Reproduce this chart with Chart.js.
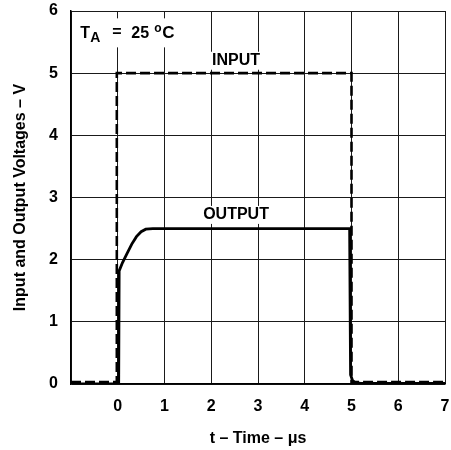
<!DOCTYPE html>
<html>
<head>
<meta charset="utf-8">
<script src="https://cdn.jsdelivr.net/npm/chart.js@4.4.1/dist/chart.umd.min.js"></script>
<style>
  html, body { margin: 0; padding: 0; background: #fff; }
  #wrap { width: 451px; height: 450px; }
</style>
</head>
<body>
<div id="wrap"><canvas id="c" width="451" height="450"></canvas></div>
<script>
// ---- Data ----
const inputTime   = [-1, -0.02, -0.02, 5.0, 5.0, 7];
const inputVolts  = [0.03, 0.03, 5.0, 5.0, 0.03, 0.03];

const outputTime  = [-1, 0.02, 0.03, 0.1, 0.2, 0.3, 0.4, 0.5, 0.6, 0.75, 4.96, 4.98, 5.02, 5.08, 5.2, 7];
const outputVolts = [0, 0, 1.82, 1.95, 2.1, 2.25, 2.37, 2.45, 2.49, 2.5, 2.5, 0.15, 0.06, 0.02, 0.01, 0.01];

const xTicks = [-1, 0, 1, 2, 3, 4, 5, 6, 7];
const yTicks = [0, 1, 2, 3, 4, 5, 6];

const labels = [
  { text: 'INPUT',  x: 2.53, y: 5.2 },
  { text: 'OUTPUT', x: 2.53, y: 2.72 }
];
const tempLabel = { x: -0.8, y: 5.56 };

function pts(xs, ys) { return xs.map((x, i) => ({ x: x, y: ys[i] })); }

const FONT = "'Liberation Sans', Arial, Helvetica, sans-serif";

const annotPlugin = {
  id: 'annot',
  afterDatasetsDraw(chart) {
    const ctx = chart.ctx;
    const xs = chart.scales.x, ys = chart.scales.y;
    ctx.save();
    ctx.textBaseline = 'middle';
    ctx.textAlign = 'center';
    ctx.font = 'bold 16px ' + FONT;
    labels.forEach(l => {
      const px = xs.getPixelForValue(l.x), py = ys.getPixelForValue(l.y);
      const w = ctx.measureText(l.text).width;
      ctx.fillStyle = '#fff';
      ctx.fillRect(px - w / 2 - 3, py - 9, w + 6, 18);
      ctx.fillStyle = '#000';
      ctx.fillText(l.text, px, py);
    });
    // T_A = 25°C label (baseline anchored)
    const px = xs.getPixelForValue(tempLabel.x), py = ys.getPixelForValue(tempLabel.y);
    ctx.textAlign = 'left';
    ctx.textBaseline = 'alphabetic';
    ctx.fillStyle = '#fff';
    ctx.fillRect(px - 6, py - 20, 104, 29);
    ctx.fillStyle = '#000';
    ctx.font = 'bold 16px ' + FONT;
    ctx.fillText('T', px, py);
    ctx.font = 'bold 14px ' + FONT;
    ctx.fillText('A', px + 10, py + 4);
    ctx.font = 'bold 16px ' + FONT;
    ctx.fillText('=', px + 32, py - 1);
    ctx.fillText('25', px + 51, py);
    ctx.font = 'bold 12px ' + FONT;
    ctx.fillText('o', px + 74, py - 6);
    ctx.font = 'bold 17px ' + FONT;
    ctx.fillText('C', px + 82, py);
    ctx.restore();
  }
};

new Chart(document.getElementById('c'), {
  type: 'scatter',
  data: {
    datasets: [
      {
        label: 'Output',
        data: pts(outputTime, outputVolts),
        showLine: true,
        borderColor: '#000',
        borderWidth: 2.8,
        pointRadius: 0,
        tension: 0,
        fill: false
      },
      {
        label: 'Input',
        data: pts(inputTime, inputVolts),
        showLine: true,
        borderColor: '#000',
        borderWidth: 2.6,
        borderDash: [10, 4],
        pointRadius: 0,
        tension: 0,
        fill: false
      }
    ]
  },
  options: {
    responsive: false,
    animation: false,
    layout: { padding: { top: 11, right: 6, left: 0, bottom: 0 } },
    plugins: { legend: { display: false }, tooltip: { enabled: false } },
    scales: {
      x: {
        type: 'linear',
        min: -1, max: 7,
        afterBuildTicks(s) { s.ticks = xTicks.map(v => ({ value: v })); },
        afterFit(s) { s.height = 66; s.paddingLeft = 0; s.paddingRight = 0; },
        ticks: {
          color: '#000',
          font: { family: FONT, size: 16, weight: 'bold' },
          padding: 13,
          callback: v => (v === -1 ? '' : String(v))
        },
        grid: { color: '#1a1a1a', lineWidth: 1, drawTicks: false },
        border: { color: '#000', width: 1.5 },
        title: {
          display: true,
          text: 't – Time – μs',
          color: '#000',
          font: { family: FONT, size: 16, weight: 'bold' },
          padding: { top: 0, bottom: 2 }
        }
      },
      y: {
        type: 'linear',
        min: 0, max: 6,
        afterBuildTicks(s) { s.ticks = yTicks.map(v => ({ value: v })); },
        afterFit(s) { s.width = 71; s.paddingTop = 0; s.paddingBottom = 0; },
        ticks: {
          color: '#000',
          font: { family: FONT, size: 16, weight: 'bold' },
          padding: 13
        },
        grid: { color: '#1a1a1a', lineWidth: 1, drawTicks: false },
        border: { color: '#000', width: 1.5 },
        title: {
          display: true,
          text: 'Input and Output Voltages – V',
          color: '#000',
          font: { family: FONT, size: 16, weight: 'bold' },
          padding: { top: 11, bottom: 11 }
        }
      }
    }
  },
  plugins: [annotPlugin]
});
</script>
</body>
</html>
